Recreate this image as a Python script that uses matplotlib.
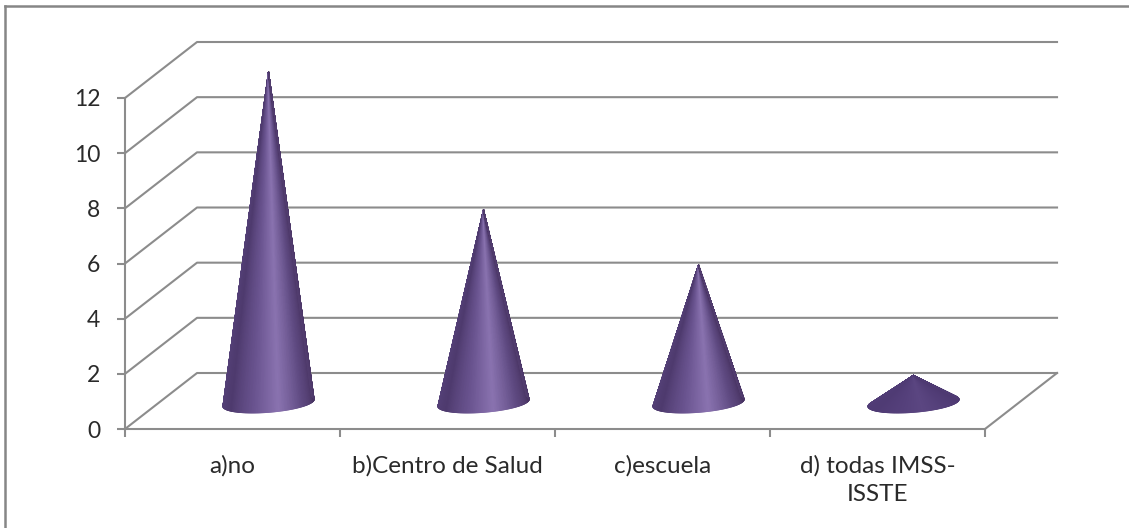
import numpy as np
import matplotlib.pyplot as plt
from matplotlib.collections import PolyCollection
from matplotlib.colors import LinearSegmentedColormap
from matplotlib.lines import Line2D

categories = ["a)no", "b)Centro de Salud", "c)escuela", "d) todas IMSS-\nISSTE"]
values = [12, 7, 5, 1]
y_ticks = [0, 2, 4, 6, 8, 10, 12]

# oblique depth of the 3D box, in data units
depth_x = 0.335
depth_y = 2.03
grid_color = "#8c8c8c"
text_color = "#2a2a2a"

plt.rcParams['font.family'] = ['Lato', 'DejaVu Sans']

cone_cmap = LinearSegmentedColormap.from_list("cone", [
    (0.0, "#5a4680"), (0.25, "#4e3a6e"), (0.42, "#6a5490"), (0.56, "#8a73b0"),
    (0.72, "#5f4a82"), (0.88, "#483362"), (1.0, "#513c6e"),
])
flat_color = np.array([0.31, 0.23, 0.46, 1.0])

W, H = 1129, 528
fig = plt.figure(figsize=(W / 100, H / 100), dpi=100)
ax = fig.add_axes([125 / W, (H - 429) / H, 860 / W, 331 / H])
ax.set_xlim(0, len(categories))
ax.set_ylim(0, 12)
for s in ["top", "right"]:
    ax.spines[s].set_visible(False)
for s in ["left", "bottom"]:
    ax.spines[s].set_color(grid_color)
    ax.spines[s].set_linewidth(1.5)

# gridlines run back along the side wall, then across the back wall
n = len(categories)
for v in y_ticks:
    ax.plot([0, depth_x, n + depth_x], [v, v + depth_y, v + depth_y],
            color=grid_color, lw=1.5, clip_on=False, zorder=1)
ax.plot([n, n + depth_x], [0, depth_y], color=grid_color, lw=1.5, clip_on=False, zorder=1)


def draw_cone(center, value):
    half_w = 0.212
    base_y = depth_y / 2 - 0.07
    b = 0.34
    tilt = 0.127
    tip = (center + depth_x / 2, value + depth_y / 2 - 0.07)
    # the arc runs a little past the widest points so the base corners stay round
    t = np.linspace(np.pi - 0.35, 2 * np.pi + 0.35, 201)
    xs = tip[0] + half_w * np.cos(t)
    ys = base_y + b * np.sin(t) + tilt * np.cos(t)
    # short cones show almost no shading
    shade = min(1.0, value / 5)
    polys = []
    colors = []
    for i in range(len(t) - 1):
        polys.append([tip, (xs[i], ys[i]), (xs[i + 1], ys[i + 1])])
        c = np.array(cone_cmap(i / (len(t) - 2)))
        colors.append(flat_color + shade * (c - flat_color))
    fan = PolyCollection(polys, facecolors=colors, edgecolors=colors, linewidths=0.7,
                         clip_on=False, zorder=3)
    ax.add_collection(fan)


for i, v in enumerate(values):
    draw_cone(i + 0.5, v)

ax.set_yticks(y_ticks)
ax.set_xticks(range(n + 1))
ax.set_xticklabels([])
ax.set_xticks([i + 0.5 for i in range(n)], minor=True)
ax.set_xticklabels(categories, minor=True, linespacing=1.45)
ax.tick_params(axis="both", which="major", color=grid_color, width=1.5, length=5.8,
               labelcolor=text_color, labelsize=16.5)
ax.tick_params(axis="y", pad=12)
ax.tick_params(axis="x", which="minor", length=0, pad=18.5, labelcolor=text_color, labelsize=17.5)

# outer chart border: only the top and left edges fall inside the canvas
fig.add_artist(Line2D([5 / W, 1], [1 - 6 / H, 1 - 6 / H], color="#868686", lw=1.8))
fig.add_artist(Line2D([5 / W, 5 / W], [0, 1 - 6 / H], color="#868686", lw=1.8))

fig.savefig("out.png", dpi=100, facecolor="white")
